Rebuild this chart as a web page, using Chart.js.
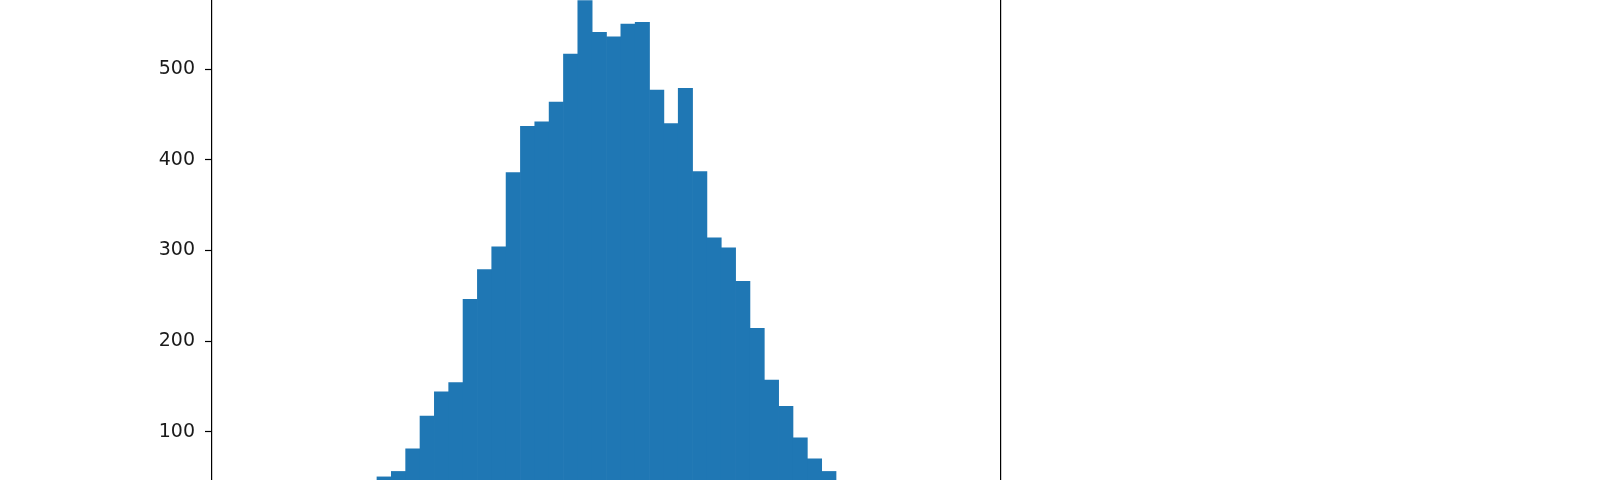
<!DOCTYPE html>
<html>
<head>
<meta charset="utf-8">
<script src="https://cdn.jsdelivr.net/npm/chart.js@4"></script>
<style>
  html, body { margin: 0; padding: 0; background: #ffffff; overflow: hidden; }
  #wrap { width: 1600px; height: 480px; }
</style>
</head>
<body>
<div id="wrap"><canvas id="c" width="1600" height="480"></canvas></div>
<script>
// Histogram: 50 bins (bin index units), counts per bin
const binCount = 50;
const binCenters = Array.from({ length: binCount }, (_, i) => i + 0.5);
const counts = [
  1, 1, 2, 4, 7, 10, 16, 24, 33,
  50, 56, 81, 117, 144, 154, 246, 279, 304, 386,
  437, 442, 464, 517, 576, 541, 536, 550, 552, 477,
  440, 479, 387, 314, 303, 266, 214, 157, 128, 93,
  70, 56,
  40, 29, 20, 13, 8, 5, 3, 1, 1
];
const yTicks = [100, 200, 300, 400, 500];
// visible window of the value axis (the picture is a crop of the axes)
const yMin = 46.55;
const yMax = 576.6;
// x range: bin edges 0..50 plus matplotlib's 5% margins
const xMin = -2.5;
const xMax = 52.5;

const points = binCenters.map((x, i) => ({ x: x, y: counts[i] }));

new Chart(document.getElementById('c'), {
  type: 'bar',
  data: {
    datasets: [{
      data: points,
      backgroundColor: '#1f77b4',
      borderWidth: 0,
      barPercentage: 1.0,
      categoryPercentage: 1.0
    }]
  },
  options: {
    responsive: false,
    animation: false,
    devicePixelRatio: 1,
    layout: { padding: { left: 0, right: 599, top: 0, bottom: 0 } },
    plugins: { legend: { display: false }, tooltip: { enabled: false } },
    scales: {
      x: {
        type: 'linear',
        display: false,
        min: xMin,
        max: xMax,
        offset: false
      },
      y: {
        type: 'linear',
        position: 'left',
        min: yMin,
        max: yMax,
        afterBuildTicks: (scale) => { scale.ticks = yTicks.map(v => ({ value: v })); },
        afterFit: (scale) => { scale.width = 212; scale.paddingTop = 0; scale.paddingBottom = 0; },
        border: { display: true, color: '#000000', width: 1.2 },
        grid: {
          drawOnChartArea: false,
          drawTicks: true,
          tickLength: 7,
          tickColor: '#000000',
          tickWidth: 1.2
        },
        ticks: {
          padding: 10,
          color: '#1a1a1a',
          font: { family: 'DejaVu Sans', size: 19 },
          callback: (v) => String(v)
        }
      },
      y2: {
        type: 'linear',
        position: 'right',
        min: yMin,
        max: yMax,
        afterFit: (scale) => { scale.width = 0; scale.paddingTop = 0; scale.paddingBottom = 0; },
        border: { display: true, color: '#000000', width: 1.2 },
        grid: { display: false, drawTicks: false },
        ticks: { display: false }
      }
    }
  }
});
</script>
</body>
</html>
